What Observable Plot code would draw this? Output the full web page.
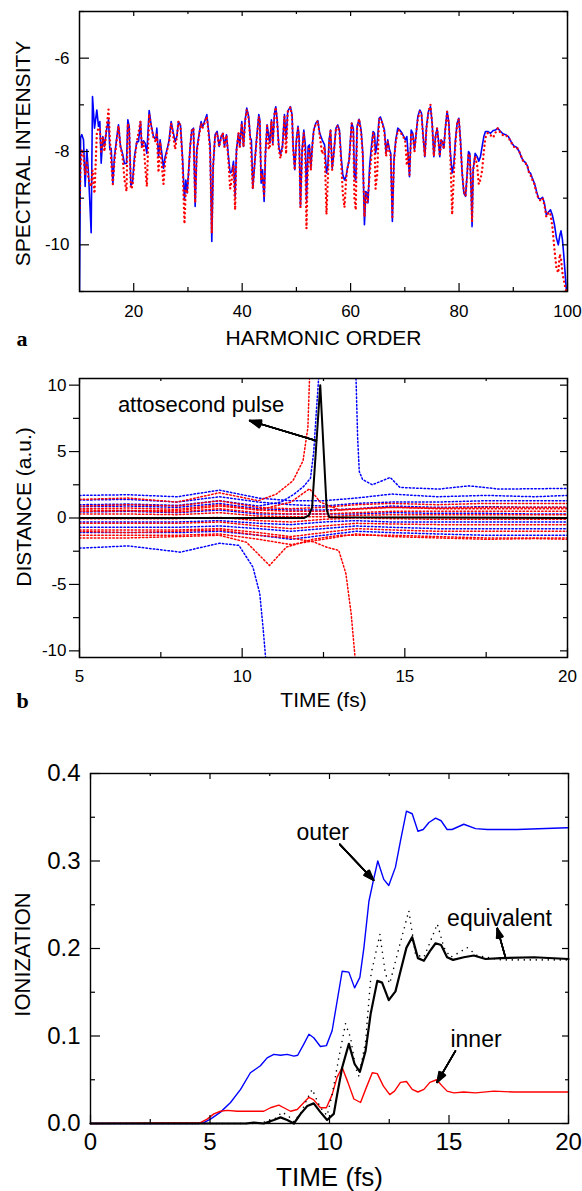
<!DOCTYPE html>
<html><head><meta charset="utf-8">
<script src="https://cdn.jsdelivr.net/npm/d3@7"></script>
<script src="https://cdn.jsdelivr.net/npm/@observablehq/plot@0.6"></script>
<style>
body{margin:0;background:#fff;}
#wrap{width:582px;}
#wrap svg{display:block;}
</style>
</head><body><div id="wrap"></div>
<script>
// ---------- Panel a data ----------
const harmonicOrder = [10.0,10.2,10.43,10.74,11.04,11.35,11.66,12.15,12.4,12.77,13.2,13.5,13.75,14.0,14.3,14.61,14.98,15.35,15.59,15.84,16.15,16.45,16.82,17.19,17.56,17.93,18.3,18.67,18.91,19.16,19.47,19.77,20.14,20.57,20.88,21.25,21.49,21.8,22.11,22.42,22.85,23.21,23.64,24.08,24.26,24.57,24.87,25.18,25.49,25.8,26.29,26.53,26.9,27.21,27.64,27.95,28.25,28.62,28.99,29.36,29.61,29.85,30.1,30.41,30.71,31.02,31.33,31.64,32.07,32.43,32.68,33.05,33.48,33.79,34.09,34.4,34.65,35.01,35.38,35.75,36.12,36.43,36.74,37.11,37.47,37.78,38.09,38.4,38.7,38.95,39.32,39.56,39.93,40.24,40.55,40.85,41.2,41.5,41.7,41.96,42.27,42.64,43.07,43.25,43.5,43.75,44.05,44.3,44.6,44.9,45.1,45.4,45.65,45.96,46.2,46.45,46.76,47.06,47.43,47.8,48.1,48.4,48.9,49.2,49.4,49.7,50.0,50.3,50.5,50.75,51.06,51.37,51.67,51.86,52.17,52.4,52.66,52.97,53.2,53.6,53.95,54.3,54.75,55.2,55.55,55.8,56.04,56.3,56.6,56.9,57.3,57.64,57.94,58.25,58.56,58.87,59.17,59.36,59.73,59.97,60.2,60.5,60.7,60.95,61.2,61.57,61.94,62.25,62.55,62.8,63.05,63.2,63.5,63.84,64.15,64.4,64.6,64.9,65.26,65.5,65.87,66.24,66.55,66.85,67.16,67.4,67.7,68.0,68.33,68.7,69.07,69.5,69.8,70.1,70.37,70.55,70.86,71.17,71.47,71.78,72.1,72.4,72.76,73.07,73.38,73.69,74.0,74.36,74.73,75.04,75.35,75.65,75.96,76.2,76.45,76.7,76.94,77.19,77.44,77.8,78.1,78.4,78.73,79.03,79.34,79.65,79.96,80.26,80.57,80.88,81.2,81.5,81.74,81.98,82.23,82.4,82.6,82.97,83.34,83.64,83.95,84.26,84.57,84.87,85.3,85.8,86.3,86.7,87.15,87.64,88.1,88.6,89.1,89.6,90.1,90.6,91.1,91.45,91.8,92.25,92.6,92.9,93.17,93.5,93.9,94.3,94.65,95.0,95.4,95.75,96.1,96.55,96.86,97.2,97.6,97.96,98.3,98.58,98.8,99.07,99.3,99.56,99.8];
const intensitySolid = [-11.0,-7.7,-7.64,-7.75,-8.75,-7.96,-8.46,-9.74,-6.82,-7.5,-7.11,-7.46,-7.36,-8.25,-7.68,-7.89,-7.54,-7.32,-7.96,-7.93,-8.69,-8.11,-7.75,-7.43,-7.89,-8.04,-8.26,-8.25,-7.32,-7.46,-8.72,-8.68,-8.11,-7.79,-7.79,-7.36,-7.89,-7.77,-7.82,-8.04,-7.12,-7.43,-7.68,-7.75,-7.5,-8.11,-7.75,-8.04,-8.36,-8.11,-7.89,-7.75,-7.36,-7.54,-7.79,-7.68,-7.36,-7.43,-8.11,-9.04,-8.61,-8.89,-8.46,-7.89,-7.54,-7.5,-9.18,-7.96,-7.61,-7.36,-7.48,-7.36,-7.21,-7.54,-7.89,-9.93,-8.32,-7.64,-7.57,-7.89,-7.68,-7.61,-7.89,-7.64,-8.11,-8.46,-8.43,-8.21,-8.96,-7.96,-7.61,-7.89,-7.36,-7.89,-7.32,-7.07,-7.25,-7.71,-7.75,-8.79,-8.32,-7.75,-7.21,-7.32,-8.68,-8.39,-9.07,-8.04,-7.43,-7.68,-7.82,-7.32,-7.82,-7.18,-7.04,-7.32,-7.89,-8.07,-7.89,-7.21,-7.75,-7.14,-7.04,-7.21,-7.89,-8.39,-7.75,-7.46,-7.68,-9.18,-7.96,-7.54,-7.89,-9.04,-7.89,-7.86,-8.36,-7.82,-7.54,-7.39,-7.34,-7.61,-7.75,-7.86,-8.46,-8.32,-7.75,-7.54,-8.36,-8.04,-7.5,-7.43,-7.54,-8.11,-8.5,-8.61,-8.54,-8.39,-8.18,-7.75,-7.39,-7.5,-8.54,-8.61,-7.46,-7.31,-7.54,-8.04,-9.57,-8.86,-8.89,-9.1,-8.32,-7.89,-7.57,-7.61,-8.04,-7.82,-7.29,-7.26,-7.39,-7.54,-8.04,-7.75,-7.96,-8.04,-9.5,-8.18,-7.75,-7.5,-7.54,-7.61,-7.68,-7.75,-7.68,-7.96,-8.54,-7.54,-7.61,-7.96,-7.61,-7.25,-7.11,-7.18,-7.68,-8.11,-7.46,-7.14,-7.04,-7.39,-8.11,-7.68,-7.5,-7.75,-8.11,-7.75,-7.79,-7.93,-7.54,-7.14,-7.36,-8.04,-8.46,-8.29,-7.75,-7.39,-7.29,-7.75,-8.46,-8.89,-8.96,-8.46,-8.0,-8.04,-8.82,-9.61,-8.39,-8.04,-8.11,-8.21,-8.11,-7.89,-7.68,-7.57,-7.57,-7.61,-7.55,-7.54,-7.5,-7.57,-7.62,-7.64,-7.68,-7.79,-7.88,-7.91,-8.0,-8.11,-8.19,-8.24,-8.31,-8.45,-8.46,-8.57,-8.68,-8.86,-9.0,-9.02,-8.98,-9.11,-9.36,-9.29,-9.25,-9.36,-9.57,-9.85,-10.0,-9.8,-9.7,-9.89,-10.2,-10.6,-11.0];
const intensityDotted = [-9.3,-8.3,-7.95,-8.1,-8.5,-8.2,-8.6,-8.75,-8.4,-8.9,-7.6,-7.5,-7.5,-8.0,-7.7,-8.0,-7.5,-7.1,-7.7,-8.2,-8.7,-8.2,-7.8,-7.45,-7.9,-8.1,-8.6,-8.85,-7.4,-7.5,-8.8,-8.75,-8.2,-7.8,-7.6,-7.35,-7.9,-7.8,-8.3,-8.75,-7.2,-7.45,-7.7,-7.8,-7.6,-8.45,-7.8,-8.3,-8.7,-8.2,-7.9,-7.8,-7.4,-7.6,-7.95,-7.7,-7.35,-7.45,-8.2,-9.55,-8.8,-8.9,-8.5,-7.9,-7.55,-7.5,-9.1,-8.0,-7.65,-7.4,-7.5,-7.4,-7.25,-7.6,-8.0,-9.75,-8.3,-7.65,-7.6,-7.9,-7.7,-7.6,-7.9,-7.65,-8.2,-8.8,-8.6,-8.3,-9.25,-8.0,-7.6,-7.9,-7.4,-7.9,-7.35,-7.1,-7.3,-7.75,-8.1,-8.8,-8.3,-7.8,-7.25,-7.35,-8.6,-8.5,-8.95,-8.0,-7.45,-7.95,-7.9,-7.35,-7.85,-7.2,-7.05,-7.35,-7.95,-8.15,-7.9,-7.25,-8.05,-7.15,-7.05,-7.25,-7.95,-8.4,-7.8,-7.5,-7.7,-9.2,-8.0,-7.6,-8.2,-9.65,-8.0,-7.9,-8.4,-7.85,-7.55,-7.4,-7.35,-7.65,-8.05,-7.9,-9.35,-8.6,-7.8,-7.55,-8.4,-8.05,-7.5,-7.45,-7.6,-8.2,-8.9,-9.2,-8.6,-8.4,-8.2,-7.8,-7.4,-7.6,-9.0,-9.25,-7.5,-7.3,-7.6,-8.1,-9.4,-8.9,-9.1,-9.0,-8.5,-8.1,-7.6,-7.7,-8.8,-8.5,-7.3,-7.3,-7.4,-7.6,-8.1,-7.8,-8.0,-8.1,-9.4,-8.2,-7.8,-7.55,-7.55,-7.65,-7.7,-7.8,-8.3,-8.0,-8.5,-7.6,-7.65,-8.0,-7.6,-7.3,-7.15,-7.2,-7.7,-8.1,-7.5,-7.15,-7.0,-7.4,-8.1,-7.7,-7.5,-7.8,-8.1,-7.75,-7.8,-7.95,-7.55,-7.15,-7.4,-8.1,-9.35,-8.5,-7.8,-7.4,-7.3,-7.8,-8.45,-8.85,-8.95,-8.5,-8.05,-8.1,-8.8,-9.5,-8.4,-8.1,-8.3,-8.7,-8.6,-8.4,-8.0,-7.7,-7.6,-7.65,-7.7,-7.6,-7.5,-7.6,-7.65,-7.65,-7.7,-7.8,-7.9,-7.9,-8.0,-8.1,-8.2,-8.25,-8.3,-8.45,-8.5,-8.6,-8.7,-8.9,-9.0,-9.05,-9.0,-9.15,-9.4,-9.3,-9.35,-9.6,-10.1,-10.5,-10.6,-10.2,-10.3,-10.6,-10.75,-10.9,-11.0];
const harmonicTicks = [20, 40, 60, 80, 100];
const harmonicMinor = [30, 50, 70, 90];
const intensityTicks = [-10, -8, -6];
const intensityMinor = [-11, -9, -7, -5];

// ---------- Panel b data ----------
const bandTime = [5, 6.5, 8, 9.3, 10.5, 11.5, 12.5, 13.5, 14.6, 16, 17.5, 19, 20];
const blueBand1 = [1.7, 1.75, 1.6, 2.1, 1.5, 1.3, 1.3, 1.5, 1.8, 1.6, 1.7, 1.6, 1.7];
const blueBand2 = [1.35, 1.4, 1.2, 1.6, 1.2, 1.0, 0.9, 1.1, 1.2, 1.2, 1.3, 1.3, 1.3];
const blueBand3 = [0.85, 0.9, 0.8, 1.1, 0.7, 0.6, 0.6, 0.7, 0.9, 0.8, 0.85, 0.8, 0.8];
const blueBand4 = [0.45, 0.5, 0.4, 0.6, 0.3, 0.3, 0.3, 0.3, 0.4, 0.35, 0.35, 0.3, 0.3];
const blueBand5 = [-0.3, -0.3, -0.3, -0.2, -0.4, -0.5, -0.3, -0.2, -0.3, -0.3, -0.3, -0.3, -0.3];
const blueBand6 = [-0.7, -0.7, -0.7, -0.6, -0.8, -1.0, -0.8, -0.6, -0.7, -0.8, -0.8, -0.8, -0.8];
const blueBand7 = [-1.1, -1.1, -1.1, -1.0, -1.3, -1.6, -1.3, -1.0, -1.1, -1.2, -1.3, -1.3, -1.3];
const redBand1 = [0.9, 1.0, 0.9, 1.3, 0.8, 0.7, 0.8, 1.0, 1.1, 1.0, 1.1, 1.1, 1.1];
const redBand2 = [0.7, 0.75, 0.65, 1.0, 0.6, 0.5, 0.5, 0.7, 0.8, 0.75, 0.8, 0.8, 0.8];
const redBand3 = [0.5, 0.55, 0.45, 0.7, 0.4, 0.3, 0.3, 0.4, 0.5, 0.5, 0.5, 0.5, 0.5];
const redBand4 = [0.3, 0.3, 0.25, 0.4, 0.15, 0.1, 0.1, 0.2, 0.25, 0.25, 0.25, 0.25, 0.25];
const redBand5 = [-0.05, -0.05, -0.05, 0.05, -0.2, -0.3, -0.1, 0.0, -0.05, -0.1, -0.1, -0.1, -0.1];
const redBand6 = [-0.4, -0.4, -0.4, -0.3, -0.6, -0.8, -0.6, -0.4, -0.45, -0.5, -0.5, -0.5, -0.5];
const redBand7 = [-0.9, -0.9, -0.9, -0.8, -1.1, -1.4, -1.1, -0.8, -0.9, -1.0, -1.0, -1.0, -1.0];
const redBand8 = [-1.3, -1.3, -1.3, -1.2, -1.6, -2.0, -1.6, -1.2, -1.4, -1.5, -1.6, -1.55, -1.6];
const blueDownTime = [5, 6.5, 8.1, 9.3, 9.9, 10.33, 10.54, 10.64, 10.72];
const blueDownDist = [-2.27, -2.1, -2.57, -1.9, -2.06, -3.69, -5.67, -8.2, -10.5];
const blueUpTime = [5, 6.5, 8, 9.3, 10.5, 11.2, 11.6, 11.9, 12.1, 12.2, 12.28, 12.35];
const blueUpDist = [1.0, 1.05, 0.95, 1.3, 0.9, 1.2, 1.8, 2.4, 3.0, 5.0, 8.0, 10.5];
const blueTopTime = [13.5, 13.55, 13.6, 13.7, 14.0, 14.55, 14.85, 16.05, 16.97, 17.9, 19.0, 20.0];
const blueTopDist = [10.5, 6.0, 3.5, 2.9, 2.5, 3.05, 2.3, 2.18, 2.42, 2.18, 2.2, 2.23];
const redUpTime = [5, 6.5, 8, 9.3, 10.5, 11.05, 11.56, 11.87, 12.02, 12.07];
const redUpDist = [1.4, 1.5, 1.2, 1.9, 1.3, 1.8, 2.8, 4.3, 6.8, 10.5];
const redDownTime = [5, 6.5, 8, 9.3, 10.5, 11.5, 12.2, 12.6, 12.97, 13.19, 13.35, 13.47];
const redDownDist = [-1.0, -1.1, -1.0, -0.9, -1.3, -1.5, -1.8, -2.2, -2.44, -4.2, -7.2, -10.5];
const redDipTime = [5, 6.5, 8, 9.3, 10.13, 10.84, 11.36, 12.17, 13, 14.6, 16, 17.5, 20];
const redDipDist = [-1.5, -1.5, -1.4, -1.3, -1.82, -3.57, -2.19, -1.6, -1.3, -1.3, -1.4, -1.5, -1.5];
const redBumpTime = [5, 8, 9.3, 10.5, 11.5, 12.07, 12.4, 13, 14.6, 16, 20];
const redBumpDist = [0.6, 0.55, 0.9, 0.6, 1.2, 2.2, 1.2, 0.6, 0.8, 0.7, 0.7];
const pulseTime = [5, 11.9, 12.05, 12.15, 12.4, 12.6, 12.68, 20];
const pulseDist = [0, 0, 0.2, 0.8, 10, 0.6, 0.05, 0];
const timeTicksB = [5, 10, 15, 20];
const timeMinorB = [7.5, 12.5, 17.5];
const distTicks = [-10, -5, 0, 5, 10];
const distMinor = [-7.5, -2.5, 2.5, 7.5];
const pulseNote = [{label: "attosecond pulse", x: 6.18, y: 8.5, x1: 12.28, y1: 5.82, x2: 10.23, y2: 7.33}];

// ---------- Panel c data ----------
const outerTime = [0, 4.5, 4.74, 5.02, 5.44, 5.86, 6.28, 6.69, 7.11, 7.39, 7.67, 7.95, 8.23, 8.51, 8.67, 8.93, 9.14, 9.34, 9.62, 9.87, 10.11, 10.32, 10.53, 10.81, 11.05, 11.27, 11.44, 11.65, 11.83, 12.02, 12.27, 12.48, 12.76, 12.97, 13.22, 13.46, 13.7, 13.92, 14.16, 14.44, 14.67, 14.92, 15.13, 15.62, 16.11, 16.6, 17.85, 19.94, 20];
const outerIon = [0, 0, 0.001, 0.005, 0.013, 0.024, 0.039, 0.058, 0.066, 0.075, 0.079, 0.078, 0.079, 0.077, 0.078, 0.091, 0.102, 0.098, 0.088, 0.089, 0.106, 0.14, 0.174, 0.173, 0.155, 0.167, 0.201, 0.254, 0.277, 0.3, 0.279, 0.272, 0.293, 0.323, 0.357, 0.354, 0.334, 0.336, 0.344, 0.349, 0.346, 0.336, 0.336, 0.342, 0.337, 0.336, 0.336, 0.338, 0.338];
const innerTime = [0, 4.6, 4.88, 5.16, 5.44, 5.72, 6.14, 6.56, 7.25, 7.53, 7.88, 8.09, 8.37, 8.65, 8.93, 9.14, 9.34, 9.62, 9.87, 10.11, 10.32, 10.53, 10.77, 11.02, 11.3, 11.51, 11.79, 12.0, 12.25, 12.52, 12.72, 12.97, 13.22, 13.46, 13.7, 13.95, 14.2, 14.48, 14.71, 14.92, 15.2, 15.62, 16.11, 16.88, 17.71, 20];
const innerIon = [0, 0.001, 0.005, 0.011, 0.014, 0.015, 0.014, 0.014, 0.014, 0.018, 0.021, 0.018, 0.014, 0.016, 0.024, 0.03, 0.027, 0.018, 0.018, 0.033, 0.053, 0.064, 0.047, 0.028, 0.024, 0.039, 0.058, 0.057, 0.043, 0.033, 0.037, 0.047, 0.048, 0.039, 0.036, 0.039, 0.047, 0.05, 0.043, 0.037, 0.035, 0.036, 0.035, 0.037, 0.036, 0.036];
const equivTime = [0, 6.5, 6.83, 7.25, 7.67, 7.95, 8.23, 8.51, 8.79, 9.07, 9.34, 9.62, 9.9, 10.18, 10.32, 10.53, 10.81, 11.05, 11.27, 11.51, 11.72, 12.0, 12.2, 12.48, 12.76, 12.97, 13.22, 13.46, 13.7, 13.95, 14.2, 14.44, 14.67, 14.92, 15.17, 15.62, 16.04, 16.53, 17.16, 18.55, 20];
const equivIon = [0, 0, 0.001, 0, 0.004, 0.007, 0.004, 0, 0.011, 0.02, 0.023, 0.013, 0.004, 0.011, 0.033, 0.064, 0.091, 0.068, 0.059, 0.083, 0.125, 0.163, 0.161, 0.141, 0.151, 0.174, 0.201, 0.213, 0.189, 0.186, 0.197, 0.206, 0.204, 0.19, 0.187, 0.19, 0.192, 0.188, 0.189, 0.19, 0.188];
const equivDotTime = [0, 7.0, 7.67, 8.02, 8.3, 8.51, 8.8, 9.1, 9.28, 9.45, 9.62, 9.9, 10.11, 10.39, 10.67, 10.88, 11.09, 11.23, 11.51, 11.74, 12.11, 12.34, 12.52, 12.9, 13.32, 13.6, 13.95, 14.25, 14.51, 14.79, 15.06, 15.4, 15.76, 16.18, 17.16, 20];
const equivDotIon = [0, 0, 0.004, 0.013, 0.008, 0.002, 0.012, 0.03, 0.039, 0.028, 0.018, 0.009, 0.033, 0.075, 0.114, 0.098, 0.064, 0.054, 0.094, 0.171, 0.216, 0.171, 0.16, 0.2, 0.243, 0.193, 0.19, 0.21, 0.228, 0.201, 0.19, 0.195, 0.201, 0.192, 0.187, 0.187];
const timeTicksC = [0, 5, 10, 15, 20];
const timeMinorC = [2.5, 7.5, 12.5, 17.5];
const ionTicks = [0, 0.1, 0.2, 0.3, 0.4];
const ionMinor = [0.05, 0.15, 0.25, 0.35];
const ionNotes = [
  {label: "outer", x: 8.62, y: 0.333, x1: 10.43, y1: 0.319, x2: 11.85, y2: 0.278},
  {label: "equivalent", x: 14.92, y: 0.234, x1: 17.36, y1: 0.19, x2: 17.02, y2: 0.223},
  {label: "inner", x: 15.06, y: 0.0956, x1: 15.27, y1: 0.083, x2: 14.5, y2: 0.047}
];

// ---------- helpers ----------
const SANS = "'Liberation Sans', Arial, Helvetica, sans-serif";
const SERIF = "'Liberation Serif', 'Times New Roman', serif";
const BLUE = "#0000ff", RED = "#ff0000";
function tx(values, len, innerH, side, sw = 1.2) {
  const o = {x: d => d, stroke: "black", strokeWidth: sw};
  o[side === "bottom" ? "insetTop" : "insetBottom"] = innerH - len;
  return Plot.tickX(values, o);
}
function ty(values, len, innerW, side, dx = 0, sw = 1.2) {
  const o = {y: d => d, stroke: "black", strokeWidth: sw, dx};
  o[side === "left" ? "insetRight" : "insetLeft"] = innerW - len;
  return Plot.tickY(values, o);
}
function arrows(data, len) {
  return [8, 16, 24, 32, 40].map(a => Plot.arrow(data, {x1: "x1", y1: "y1", x2: "x2", y2: "y2", stroke: "black", strokeWidth: 1.5, headAngle: a, headLength: len}));
}
function label(str, opts) {
  return Plot.text([str], {text: d => d, textAnchor: "middle", lineAnchor: "middle", ...opts});
}
const wrap = document.getElementById("wrap");

// ---------- Panel a ----------
{
  const H = 350, mt = 11, mb = 59, ml = 79, mr = 15;
  const iw = 582 - ml - mr, ih = H - mt - mb;
  wrap.append(Plot.plot({
    width: 582, height: H, marginTop: mt, marginBottom: mb, marginLeft: ml, marginRight: mr,
    style: {fontFamily: SANS, fontSize: "17px", background: "white", color: "black", overflow: "visible"},
    x: {domain: [10, 100]}, y: {domain: [-11, -5]},
    marks: [
      Plot.line(harmonicOrder, {x: harmonicOrder, y: intensitySolid, stroke: BLUE, strokeWidth: 1.6, clip: true}),
      Plot.line(harmonicOrder, {x: harmonicOrder, y: intensityDotted, stroke: RED, strokeWidth: 2.4, strokeDasharray: "0,4.4", strokeLinecap: "round", clip: true}),
      Plot.frame({stroke: "black", strokeWidth: 1.5}),
      tx(harmonicTicks, 8, ih, "bottom"), tx(harmonicMinor, 4, ih, "bottom"),
      tx(harmonicTicks, 5, ih, "top"), tx(harmonicMinor, 3, ih, "top"),
      ty(intensityTicks, 10, iw, "left"), ty(intensityMinor, 5, iw, "left"),
      ty(intensityTicks, 5, iw, "right"), ty(intensityMinor, 4, iw, "right"),
      Plot.axisX({ticks: harmonicTicks, tickSize: 0, tickPadding: 13, tickFormat: d => String(d), fontSize: 17, label: null}),
      Plot.axisY({ticks: intensityTicks, tickSize: 0, tickPadding: 10, tickFormat: d => String(d), fontSize: 17, label: null}),
      label("HARMONIC ORDER", {frameAnchor: "bottom", dy: 46.5, fontSize: 21}),
      label("SPECTRAL INTENSITY", {frameAnchor: "left", rotate: -90, dx: -56, dy: 2, fontSize: 21}),
      label("a", {frameAnchor: "bottom-left", dx: -57.5, dy: 47, fontSize: 22, fontWeight: "bold", fontFamily: SERIF})
    ]
  }));
}

// ---------- Panel b ----------
{
  const H = 370, mt = 28, mb = 63, ml = 79, mr = 15;
  const iw = 582 - ml - mr, ih = H - mt - mb;
  const dash = {strokeWidth: 1.5, strokeDasharray: "1.5,2.2", clip: true};
  const blueBands = [blueBand1, blueBand2, blueBand3, blueBand4, blueBand5, blueBand6, blueBand7];
  const redBands = [redBand1, redBand2, redBand3, redBand4, redBand5, redBand6, redBand7, redBand8];
  wrap.append(Plot.plot({
    width: 582, height: H, marginTop: mt, marginBottom: mb, marginLeft: ml, marginRight: mr,
    style: {fontFamily: SANS, fontSize: "17px", background: "white", color: "black", overflow: "visible"},
    x: {domain: [5, 20]}, y: {domain: [-10.5, 10.5]},
    marks: [
      ...blueBands.map(b => Plot.line(bandTime, {x: bandTime, y: b, stroke: BLUE, ...dash})),
      Plot.line(blueDownTime, {x: blueDownTime, y: blueDownDist, stroke: BLUE, ...dash}),
      Plot.line(blueUpTime, {x: blueUpTime, y: blueUpDist, stroke: BLUE, ...dash}),
      Plot.line(blueTopTime, {x: blueTopTime, y: blueTopDist, stroke: BLUE, ...dash}),
      ...redBands.map(b => Plot.line(bandTime, {x: bandTime, y: b, stroke: RED, ...dash})),
      Plot.line(redUpTime, {x: redUpTime, y: redUpDist, stroke: RED, ...dash}),
      Plot.line(redDownTime, {x: redDownTime, y: redDownDist, stroke: RED, ...dash}),
      Plot.line(redDipTime, {x: redDipTime, y: redDipDist, stroke: RED, ...dash}),
      Plot.line(redBumpTime, {x: redBumpTime, y: redBumpDist, stroke: RED, ...dash}),
      Plot.line(pulseTime, {x: pulseTime, y: pulseDist, stroke: "black", strokeWidth: 2, clip: true}),
      Plot.frame({stroke: "black", strokeWidth: 1.5}),
      tx(timeTicksB, 9, ih, "bottom"), tx(timeMinorB, 5, ih, "bottom"),
      tx(timeTicksB, 5, ih, "top"), tx(timeMinorB, 3, ih, "top"),
      ty(distTicks, 10, iw, "left", -10), ty(distMinor, 6, iw, "left", -6),
      ty(distTicks, 7, iw, "right"), ty(distMinor, 4, iw, "right"),
      Plot.axisX({ticks: timeTicksB, tickSize: 0, tickPadding: 12, tickFormat: d => String(d), fontSize: 17, label: null}),
      Plot.axisY({ticks: distTicks, tickSize: 0, tickPadding: 13, tickFormat: d => String(d), fontSize: 17, label: null}),
      Plot.text(pulseNote, {x: "x", y: "y", text: "label", textAnchor: "start", fontSize: 22}),
      ...arrows(pulseNote, 12),
      label("TIME (fs)", {frameAnchor: "bottom", dy: 42.5, fontSize: 21}),
      label("DISTANCE (a.u.)", {frameAnchor: "left", rotate: -90, dx: -55, dy: -11, fontSize: 21}),
      label("b", {frameAnchor: "bottom-left", dx: -57, dy: 43, fontSize: 22, fontWeight: "bold", fontFamily: SERIF})
    ]
  }));
}

// ---------- Panel c ----------
{
  const H = 471, mt = 53, mb = 68, ml = 90, mr = 14;
  const iw = 582 - ml - mr, ih = H - mt - mb;
  wrap.append(Plot.plot({
    width: 582, height: H, marginTop: mt, marginBottom: mb, marginLeft: ml, marginRight: mr,
    style: {fontFamily: SANS, fontSize: "24px", background: "white", color: "black", overflow: "visible"},
    x: {domain: [0, 20]}, y: {domain: [0, 0.4]},
    marks: [
      Plot.line(outerTime, {x: outerTime, y: outerIon, stroke: BLUE, strokeWidth: 1.4}),
      Plot.line(innerTime, {x: innerTime, y: innerIon, stroke: RED, strokeWidth: 1.4}),
      Plot.line(equivDotTime, {x: equivDotTime, y: equivDotIon, stroke: "black", strokeWidth: 1.6, strokeDasharray: "0,6", strokeLinecap: "round"}),
      Plot.line(equivTime, {x: equivTime, y: equivIon, stroke: "black", strokeWidth: 2.2}),
      Plot.frame({stroke: "black", strokeWidth: 1.4}),
      tx(timeTicksC, 8, ih, "bottom"), tx(timeMinorC, 4, ih, "bottom"),
      tx(timeTicksC, 6, ih, "top"), tx(timeMinorC, 3, ih, "top"),
      ty(ionTicks, 10, iw, "left"), ty(ionMinor, 5, iw, "left"),
      ty(ionTicks, 6, iw, "right"), ty(ionMinor, 3, iw, "right"),
      Plot.axisX({ticks: timeTicksC, tickSize: 0, tickPadding: 9, tickFormat: d => String(d), fontSize: 24, label: null}),
      Plot.axisY({ticks: ionTicks, tickSize: 0, tickPadding: 10, tickFormat: d3.format(".1f"), fontSize: 24, label: null}),
      Plot.text(ionNotes, {x: "x", y: "y", text: "label", textAnchor: "start", fontSize: 23}),
      ...arrows(ionNotes, 11),
      label("TIME (fs)", {frameAnchor: "bottom", dy: 54.3, fontSize: 26}),
      label("IONIZATION", {frameAnchor: "left", rotate: -90, dx: -68, dy: 6, fontSize: 22})
    ]
  }));
}
</script></body></html>
